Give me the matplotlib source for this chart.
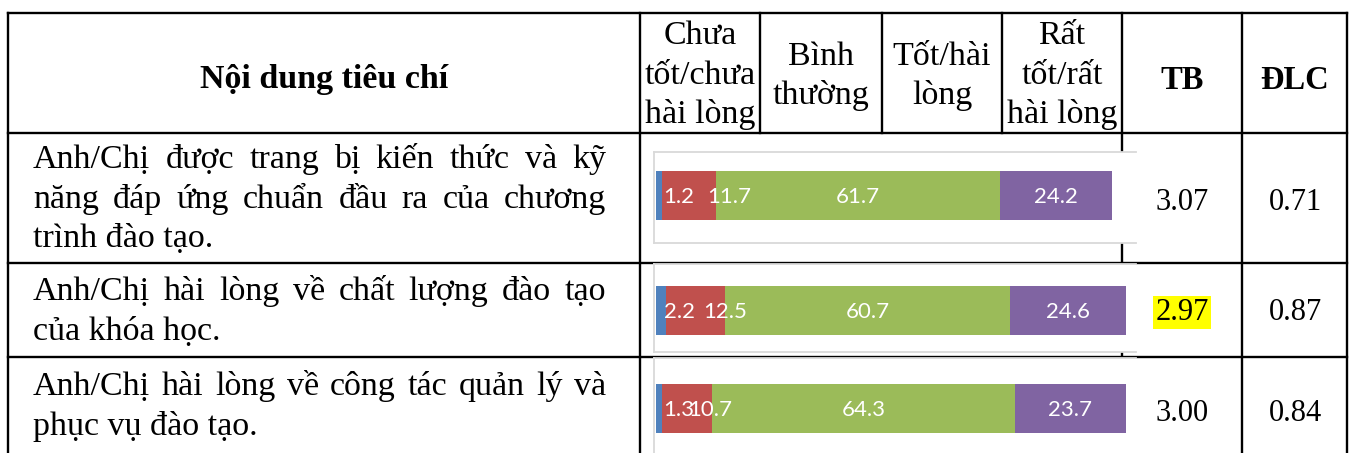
import matplotlib.pyplot as plt

# Nội dung tiêu chí (mỗi dòng chữ của ô, dòng cuối không dàn đều)
criteria = [
    ["Anh/Chị được trang bị kiến thức và kỹ",
     "năng đáp ứng chuẩn đầu ra của chương",
     "trình đào tạo."],
    ["Anh/Chị hài lòng về chất lượng đào tạo",
     "của khóa học."],
    ["Anh/Chị hài lòng về công tác quản lý và",
     "phục vụ đào tạo."],
]
levels = [["Chưa", "tốt/chưa", "hài lòng"],
          ["Bình", "thường"],
          ["Tốt/hài", "lòng"],
          ["Rất", "tốt/rất", "hài lòng"]]

# Tỷ lệ (%) theo từng mức đánh giá
very_low = [1.2, 2.2, 1.3]
low = [11.7, 12.5, 10.7]
good = [61.7, 60.7, 64.3]
very_good = [24.2, 24.6, 23.7]
tb = [3.07, 2.97, 3.00]
dlc = [0.71, 0.87, 0.84]

colors = ["#4F81BD", "#C0504D", "#9BBB59", "#8064A2"]
serif = "Liberation Serif"
W, H = 1355, 453

fig = plt.figure(figsize=(W / 100, H / 100), dpi=100)
bg = fig.add_axes([0, 0, 1, 1])
bg.set_xlim(0, W)
bg.set_ylim(H, 0)
bg.axis("off")
renderer = fig.canvas.get_renderer()

# Kẻ bảng
lw = 1.7
for y in [13, 133, 263, 357]:
    bg.plot([8, 1347], [y, y], color="black", lw=lw, solid_capstyle="projecting")
for x in [8, 640, 1122, 1242, 1347]:
    bg.plot([x, x], [13, H], color="black", lw=lw, solid_capstyle="projecting")
for x in [760, 882, 1002]:
    bg.plot([x, x], [13, 133], color="black", lw=lw, solid_capstyle="projecting")

# Tiêu đề
bg.text(324, 88, "Nội dung tiêu chí", family=serif, fontsize=24.5,
        fontweight="bold", ha="center", va="baseline")
level_x = [700, 821, 942, 1062]
for cx, words in zip(level_x, levels):
    base = [44, 84, 123] if len(words) == 3 else [65, 104]
    for yb, w in zip(base, words):
        bg.text(cx, yb, w, family=serif, fontsize=24.5, ha="center", va="baseline")
bg.text(1182, 89, "TB", family=serif, fontsize=23.5, fontweight="bold",
        ha="center", va="baseline")
bg.text(1295, 89, "ĐLC", family=serif, fontsize=23.5, fontweight="bold",
        ha="center", va="baseline")


def justify(words, x0, x1, y, **kw):
    texts = [bg.text(0, y, w, ha="left", va="baseline", **kw) for w in words]
    widths = [t.get_window_extent(renderer).width for t in texts]
    gap = (x1 - x0 - sum(widths)) / max(len(words) - 1, 1)
    x = x0
    for t, w in zip(texts, widths):
        t.set_x(x)
        x += w + gap


body_base = [[168, 208, 247], [300, 340], [395, 435]]
for lines, bases in zip(criteria, body_base):
    for i, (line, yb) in enumerate(zip(lines, bases)):
        if i < len(lines) - 1:
            justify(line.split(" "), 33, 606, yb, family=serif, fontsize=24.5)
        else:
            bg.text(33, yb, line, family=serif, fontsize=24.5,
                    ha="left", va="baseline")

# Giá trị TB và ĐLC
num_base = [210, 320, 421]
for i, yb in enumerate(num_base):
    kw = {}
    if tb[i] < 3:
        kw["bbox"] = dict(boxstyle="square,pad=0.06", fc="#FFFF00", ec="none")
    bg.text(1182, yb, f"{tb[i]:.2f}", family=serif, fontsize=22,
            ha="center", va="baseline", **kw)
    bg.text(1295, yb, f"{dlc[i]:.2f}", family=serif, fontsize=22,
            ha="center", va="baseline")

# Biểu đồ thanh xếp chồng trong từng dòng
frames = [(152, 243), (264, 352), (358, 475)]
bar_mid = [195.5, 310.5, 409]
px_per_pct = [4.615, 4.70, 4.70]
# dịch nhãn của hai đoạn nhỏ đầu (px)
nudge = [[20, 41], [18, 29], [20, 23]]
fl, fr, bx0 = 654, 1136, 656

for i in range(3):
    top, bot = frames[i]
    s = px_per_pct[i]
    ax = fig.add_axes([fl / W, 1 - bot / H, (fr - fl) / W, (bot - top) / H],
                      zorder=3)
    ax.set_facecolor("white")
    ax.set_xlim((fl - bx0) / s, (fr - bx0) / s)
    ax.set_ylim(bot, top)
    for side in ["left", "top", "bottom"]:
        ax.spines[side].set_color("#D9D9D9")
        ax.spines[side].set_linewidth(1.3)
    ax.spines["right"].set_visible(False)
    ax.set_xticks([])
    ax.set_yticks([])

    vals = [very_low[i], low[i], good[i], very_good[i]]
    left = 0
    for j, v in enumerate(vals):
        ax.barh(bar_mid[i], v, left=left, height=49, color=colors[j])
        dx = nudge[i][j] if j < 2 else 0
        ax.annotate(f"{v:.1f}", (left + v / 2, bar_mid[i] + 1.5),
                    xytext=(dx, 0), textcoords="offset pixels",
                    ha="center", va="center", color="white",
                    family="Lato", fontsize=16)
        left += v

fig.savefig("out.png", dpi=100)
